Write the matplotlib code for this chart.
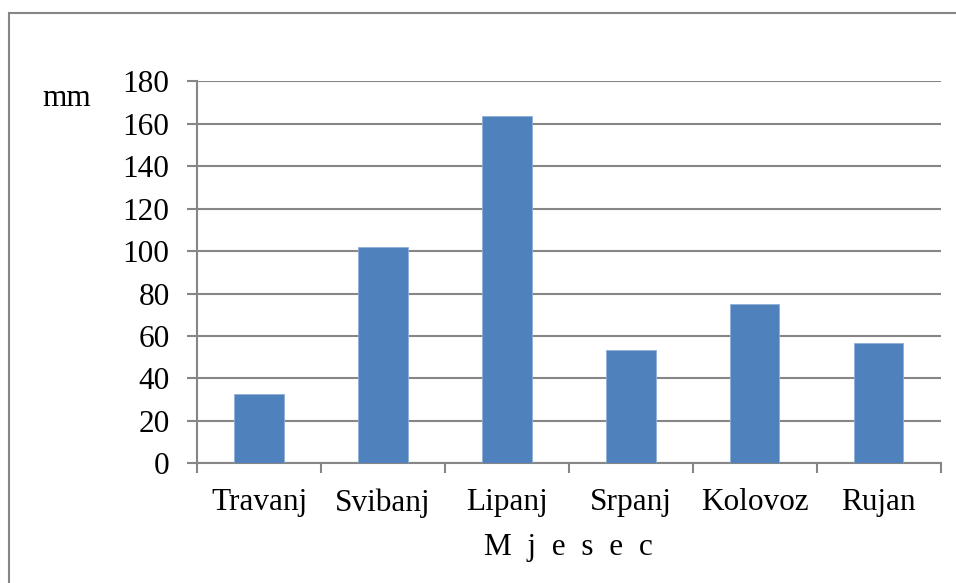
import matplotlib.pyplot as plt
from matplotlib.patches import Rectangle
import numpy as np

months = ['Travanj', 'Svibanj', 'Lipanj', 'Srpanj', 'Kolovoz', 'Rujan']
rain_mm = [32.6, 101.7, 163.5, 53.3, 75.1, 56.8]
y_ticks = [0, 20, 40, 60, 80, 100, 120, 140, 160, 180]

plt.rcParams['font.family'] = ['Liberation Serif', 'DejaVu Serif']
grid_col = '#868686'
fs = 22.5

fig = plt.figure(figsize=(9.56, 5.83), dpi=100)
ax = fig.add_axes([0.2064, 0.205, 0.9838 - 0.2064, 0.861 - 0.205])

x = np.arange(len(months))
ax.bar(x, rain_mm, width=0.4, color='#4F81BD', edgecolor='#8FAFD8', linewidth=0.6, zorder=3)

ax.set_xlim(-0.5, len(months) - 0.5)
ax.set_ylim(0, 180)
ax.set_yticks(y_ticks)
ax.set_yticklabels([str(v) for v in y_ticks], fontsize=fs)
ax.yaxis.grid(True, color=grid_col, linewidth=1.5, zorder=0)
ax.set_axisbelow(True)

# labels at bar centres, tick marks at category boundaries
ax.set_xticks(x)
ax.set_xticklabels(months, fontsize=fs)
ax.set_xticks(np.arange(len(months) + 1) - 0.5, minor=True)
ax.tick_params(axis='x', which='major', length=0, pad=18)
ax.tick_params(axis='x', which='minor', length=7, width=1.5, color=grid_col, direction='out')
ax.tick_params(axis='y', length=7, width=1.5, color=grid_col, pad=13)

for side in ['top', 'right']:
    ax.spines[side].set_visible(False)
for side in ['left', 'bottom']:
    ax.spines[side].set_color(grid_col)
    ax.spines[side].set_linewidth(1.5)

ax.set_xlabel('M  j  e  s  e  c', fontsize=fs, labelpad=11)
fig.text(67 / 956, 1 - 99 / 583, 'mm', fontsize=fs, ha='center', va='center')

# outer chart border (only left and top show in the crop)
fig.patches.append(Rectangle((9 / 956, -0.1), 1.2, 1 - 13 / 583 + 0.1, transform=fig.transFigure,
                             fill=False, edgecolor=grid_col, linewidth=1.5))

fig.savefig('out.png', dpi=100)
